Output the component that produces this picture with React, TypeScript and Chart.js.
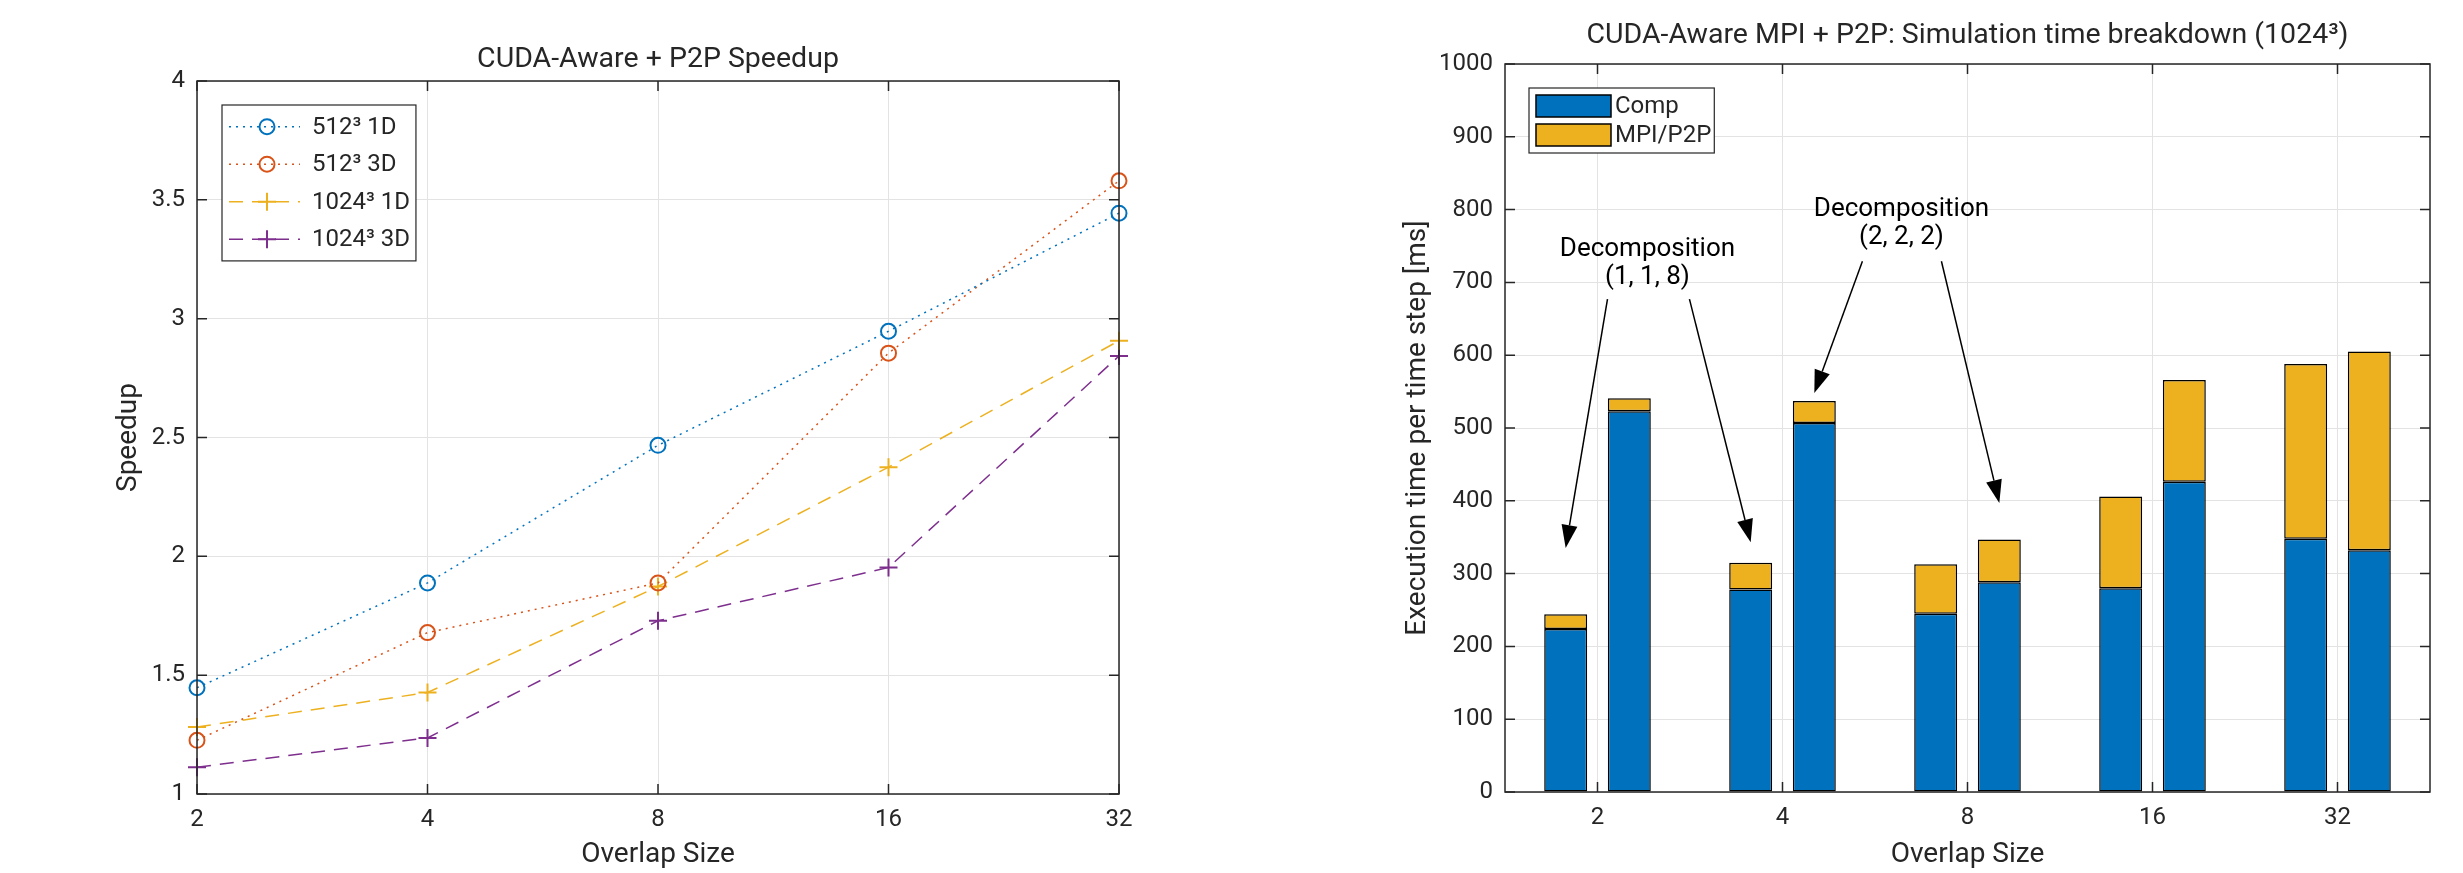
import React, { useEffect, useRef } from 'react';
import { Chart, registerables } from 'chart.js';

Chart.register(...registerables);

const FONT_FAMILY = 'Roboto, "Noto Sans", "DejaVu Sans", sans-serif';
const TEXT_COLOR = '#262626';
const AXIS_COLOR = '#262626';
const GRID_COLOR = '#e3e3e3';

// ---------------- data ----------------
const overlapSizes = ['2', '4', '8', '16', '32'];

const speedup512_1D = [1.447, 1.888, 2.467, 2.947, 3.444];
const speedup512_3D = [1.226, 1.679, 1.888, 2.855, 3.58];
const speedup1024_1D = [1.282, 1.427, 1.873, 2.375, 2.907];
const speedup1024_3D = [1.113, 1.236, 1.729, 1.953, 2.843];
const speedupLabels = ['512³ 1D', '512³ 3D', '1024³ 1D', '1024³ 3D'];
const speedupTitle = 'CUDA-Aware + P2P Speedup';

const speedupTicks = { min: 1, max: 4, step: 0.5 };

const compFirst = [224, 278, 245, 280, 348];
const mpiFirst = [20, 37, 68, 126, 240];
const compSecond = [523, 507, 288, 426, 332];
const mpiSecond = [18, 30, 59, 140, 273];
const breakdownLabels = ['Comp', 'MPI/P2P'];
const breakdownTitle = 'CUDA-Aware MPI + P2P: Simulation time breakdown (1024³)';
const timeTicks = { min: 0, max: 1000, step: 100 };

const annotationTexts = [
  ['Decomposition', '(1, 1, 8)'],
  ['Decomposition', '(2, 2, 2)'],
];

// annotation placement (category index / value space)
const annotationLayout = [
  {
    textX: 0.27,
    textY: [745, 707],
    arrows: [
      { fromX: 0.054, fromY: 677, stack: 0, index: 0, tipY: 335 },
      { fromX: 0.497, fromY: 677, stack: 0, index: 1, tipY: 343 },
    ],
  },
  {
    textX: 1.643,
    textY: [800, 762],
    arrows: [
      { fromX: 1.432, fromY: 729, stack: 1, index: 1, tipY: 548 },
      { fromX: 1.859, fromY: 729, stack: 1, index: 2, tipY: 397 },
    ],
  },
];

// ---------------- plugins ----------------
const matlabAxesPlugin = {
  id: 'matlabAxes',
  afterDatasetsDraw(chart: any) {
    const { ctx, chartArea } = chart;
    const { left, right, top, bottom } = chartArea;
    const xs = chart.scales.x;
    const ys = chart.scales.y;
    const L = 10;
    ctx.save();
    ctx.strokeStyle = AXIS_COLOR;
    ctx.lineWidth = 1.5;
    ctx.beginPath();
    xs.ticks.forEach((_: any, i: number) => {
      const px = xs.getPixelForTick(i);
      ctx.moveTo(px, bottom);
      ctx.lineTo(px, bottom - L);
      ctx.moveTo(px, top);
      ctx.lineTo(px, top + L);
    });
    ys.ticks.forEach((_: any, i: number) => {
      const py = ys.getPixelForTick(i);
      ctx.moveTo(left, py);
      ctx.lineTo(left + L, py);
      ctx.moveTo(right, py);
      ctx.lineTo(right - L, py);
    });
    ctx.stroke();
    ctx.strokeRect(left, top, right - left, bottom - top);
    ctx.restore();
  },
};

// title centred over the axes (MATLAB style)
const axesTitlePlugin = {
  id: 'axesTitle',
  afterDraw(chart: any, _args: any, opts: any) {
    const { ctx, chartArea } = chart;
    ctx.save();
    ctx.font = `${opts.size}px ${FONT_FAMILY}`;
    ctx.fillStyle = TEXT_COLOR;
    ctx.textAlign = 'center';
    ctx.textBaseline = 'middle';
    ctx.fillText(opts.text, (chartArea.left + chartArea.right) / 2, opts.y);
    ctx.restore();
  },
};

function drawMarker(ctx: CanvasRenderingContext2D, style: string, x: number, y: number, r: number) {
  ctx.beginPath();
  if (style === 'circle') {
    ctx.arc(x, y, r, 0, Math.PI * 2);
  } else {
    ctx.moveTo(x - r, y);
    ctx.lineTo(x + r, y);
    ctx.moveTo(x, y - r);
    ctx.lineTo(x, y + r);
  }
  ctx.stroke();
}

const lineLegendPlugin = {
  id: 'lineLegend',
  afterDraw(chart: any) {
    const { ctx, chartArea } = chart;
    const items = chart.data.datasets;
    const x0 = chartArea.left + 25;
    const y0 = chartArea.top + 24;
    const firstRow = 21.7;
    const rowH = 37.5;
    const textX = 90;
    ctx.save();
    ctx.font = `24px ${FONT_FAMILY}`;
    const maxW = Math.max(...items.map((d: any) => ctx.measureText(d.label).width));
    const w = textX + maxW + 6;
    const h = firstRow * 2 + rowH * (items.length - 1);
    ctx.fillStyle = '#ffffff';
    ctx.fillRect(x0, y0, w, h);
    ctx.strokeStyle = AXIS_COLOR;
    ctx.lineWidth = 1.2;
    ctx.strokeRect(x0, y0, w, h);
    items.forEach((d: any, i: number) => {
      const cy = y0 + firstRow + i * rowH;
      ctx.strokeStyle = d.borderColor;
      ctx.lineWidth = d.borderWidth;
      ctx.setLineDash(d.borderDash || []);
      ctx.beginPath();
      ctx.moveTo(x0 + 7, cy);
      ctx.lineTo(x0 + 78, cy);
      ctx.stroke();
      ctx.setLineDash([]);
      ctx.lineWidth = d.pointBorderWidth;
      drawMarker(ctx, d.pointStyle, x0 + 45, cy, d.pointRadius);
      ctx.fillStyle = TEXT_COLOR;
      ctx.textAlign = 'left';
      ctx.textBaseline = 'middle';
      ctx.fillText(d.label, x0 + textX, cy + 1);
    });
    ctx.restore();
  },
};

const barLegendPlugin = {
  id: 'barLegend',
  afterDraw(chart: any) {
    const { ctx, chartArea } = chart;
    const seen: Record<string, boolean> = {};
    const items = chart.data.datasets.filter((d: any) => {
      if (seen[d.label]) return false;
      seen[d.label] = true;
      return true;
    });
    const x0 = chartArea.left + 24;
    const y0 = chartArea.top + 24;
    const firstRow = 18;
    const rowH = 29;
    const textX = 86;
    ctx.save();
    ctx.font = `24px ${FONT_FAMILY}`;
    const maxW = Math.max(...items.map((d: any) => ctx.measureText(d.label).width));
    const w = textX + maxW + 3;
    const h = firstRow * 2 + rowH * (items.length - 1);
    ctx.fillStyle = '#ffffff';
    ctx.fillRect(x0, y0, w, h);
    ctx.strokeStyle = AXIS_COLOR;
    ctx.lineWidth = 1.2;
    ctx.strokeRect(x0, y0, w, h);
    items.forEach((d: any, i: number) => {
      const cy = y0 + firstRow + i * rowH;
      ctx.fillStyle = d.backgroundColor;
      ctx.fillRect(x0 + 7, cy - 11, 75, 22);
      ctx.strokeStyle = d.borderColor;
      ctx.lineWidth = 1.5;
      ctx.strokeRect(x0 + 7, cy - 11, 75, 22);
      ctx.fillStyle = TEXT_COLOR;
      ctx.textAlign = 'left';
      ctx.textBaseline = 'middle';
      ctx.fillText(d.label, x0 + textX, cy + 1);
    });
    ctx.restore();
  },
};

function drawArrow(ctx: CanvasRenderingContext2D, x1: number, y1: number, x2: number, y2: number) {
  const ang = Math.atan2(y2 - y1, x2 - x1);
  const len = 23;
  const half = 8;
  const bx = x2 - len * Math.cos(ang);
  const by = y2 - len * Math.sin(ang);
  ctx.beginPath();
  ctx.moveTo(x1, y1);
  ctx.lineTo(bx, by);
  ctx.stroke();
  ctx.beginPath();
  ctx.moveTo(x2, y2);
  ctx.lineTo(bx + half * Math.sin(ang), by - half * Math.cos(ang));
  ctx.lineTo(bx - half * Math.sin(ang), by + half * Math.cos(ang));
  ctx.closePath();
  ctx.fill();
}

const annotationPlugin = {
  id: 'decompAnnotations',
  afterDraw(chart: any) {
    const { ctx } = chart;
    const xs = chart.scales.x;
    const ys = chart.scales.y;
    // top dataset for each stack group
    const stackTop = [1, 3];
    ctx.save();
    ctx.font = `26px ${FONT_FAMILY}`;
    ctx.fillStyle = '#000';
    ctx.strokeStyle = '#000';
    ctx.lineWidth = 1.5;
    ctx.textAlign = 'center';
    ctx.textBaseline = 'middle';
    annotationLayout.forEach((a, k) => {
      const tx = xs.getPixelForValue(a.textX);
      annotationTexts[k].forEach((line, j) => {
        ctx.fillText(line, tx, ys.getPixelForValue(a.textY[j]));
      });
      a.arrows.forEach((ar) => {
        const el = chart.getDatasetMeta(stackTop[ar.stack]).data[ar.index];
        drawArrow(
          ctx,
          xs.getPixelForValue(ar.fromX),
          ys.getPixelForValue(ar.fromY),
          el.x,
          ys.getPixelForValue(ar.tipY)
        );
      });
    });
    ctx.restore();
  },
};

const tickFont = { family: FONT_FAMILY, size: 24 };
const labelFont = { family: FONT_FAMILY, size: 28 };
const plainTick = (v: any) => String(v);

// ---------------- components ----------------
function SpeedupChart() {
  const ref = useRef<HTMLCanvasElement | null>(null);
  useEffect(() => {
    if (!ref.current) return;
    const dotted = [2, 5];
    const dashed = [14, 9];
    const series = [
      { data: speedup512_1D, color: '#0072BD', dash: dotted, style: 'circle', r: 7.5 },
      { data: speedup512_3D, color: '#D95319', dash: dotted, style: 'circle', r: 7.5 },
      { data: speedup1024_1D, color: '#EDB120', dash: dashed, style: 'cross', r: 9 },
      { data: speedup1024_3D, color: '#7E2F8E', dash: dashed, style: 'cross', r: 9 },
    ];
    const chart = new Chart(ref.current, {
      type: 'line',
      data: {
        labels: overlapSizes,
        datasets: series.map((s, i) => ({
          label: speedupLabels[i],
          data: s.data,
          borderColor: s.color,
          backgroundColor: 'transparent',
          borderWidth: 1.5,
          borderDash: s.dash,
          pointStyle: s.style,
          pointRadius: s.r,
          pointBorderWidth: 2,
          pointBorderColor: s.color,
          pointBackgroundColor: 'transparent',
          tension: 0,
          clip: false,
        })) as any,
      },
      options: {
        animation: false,
        responsive: false,
        maintainAspectRatio: false,
        layout: { padding: { left: 0, right: 113, top: 81, bottom: 0 } },
        plugins: {
          legend: { display: false },
          tooltip: { enabled: false },
          title: { display: false },
          axesTitle: { text: speedupTitle, size: 28.5, y: 60 },
        },
        scales: {
          x: {
            type: 'category',
            offset: false,
            grid: { color: GRID_COLOR, drawTicks: false, offset: false, lineWidth: 1 },
            border: { display: false },
            ticks: { color: TEXT_COLOR, font: tickFont, padding: 12, autoSkip: false, maxRotation: 0 },
            title: {
              display: true,
              text: 'Overlap Size',
              color: TEXT_COLOR,
              font: labelFont,
              padding: { top: 0, bottom: 1.5 },
            },
            afterFit: (s: any) => {
              s.height = 79;
            },
          },
          y: {
            min: speedupTicks.min,
            max: speedupTicks.max,
            grid: { color: GRID_COLOR, drawTicks: false, lineWidth: 1 },
            border: { display: false },
            ticks: {
              stepSize: speedupTicks.step,
              color: TEXT_COLOR,
              font: tickFont,
              padding: 12,
              callback: plainTick,
            },
            title: {
              display: true,
              text: 'Speedup',
              color: TEXT_COLOR,
              font: labelFont,
              padding: { top: 112, bottom: 0 },
            },
            afterFit: (s: any) => {
              s.width = 197;
            },
          },
        },
      } as any,
      plugins: [matlabAxesPlugin, lineLegendPlugin, axesTitlePlugin],
    });
    return () => chart.destroy();
  }, []);
  return (
    <canvas
      ref={ref}
      width={1232}
      height={873}
      style={{ position: 'absolute', left: 0, top: 0, width: 1232, height: 873 }}
    />
  );
}

function BreakdownChart() {
  const ref = useRef<HTMLCanvasElement | null>(null);
  useEffect(() => {
    if (!ref.current) return;
    const blue = '#0072BD';
    const yellow = '#EDB120';
    const mk = (label: string, data: number[], color: string, stack: string) => ({
      label,
      data,
      stack,
      backgroundColor: color,
      borderColor: '#000000',
      borderWidth: 1.5,
      borderSkipped: false,
    });
    const chart = new Chart(ref.current, {
      type: 'bar',
      data: {
        labels: overlapSizes,
        datasets: [
          mk(breakdownLabels[0], compFirst, blue, 'first'),
          mk(breakdownLabels[1], mpiFirst, yellow, 'first'),
          mk(breakdownLabels[0], compSecond, blue, 'second'),
          mk(breakdownLabels[1], mpiSecond, yellow, 'second'),
        ] as any,
      },
      options: {
        animation: false,
        responsive: false,
        maintainAspectRatio: false,
        datasets: { bar: { categoryPercentage: 0.688, barPercentage: 0.675 } },
        layout: { padding: { left: 0, right: 33, top: 64, bottom: 0 } },
        plugins: {
          legend: { display: false },
          tooltip: { enabled: false },
          title: { display: false },
          axesTitle: { text: breakdownTitle, size: 28.5, y: 36 },
        },
        scales: {
          x: {
            type: 'category',
            stacked: true,
            offset: true,
            grid: { color: GRID_COLOR, drawTicks: false, offset: false, lineWidth: 1 },
            border: { display: false },
            ticks: { color: TEXT_COLOR, font: tickFont, padding: 12, autoSkip: false, maxRotation: 0 },
            title: {
              display: true,
              text: 'Overlap Size',
              color: TEXT_COLOR,
              font: labelFont,
              padding: { top: 0, bottom: 1.5 },
            },
            afterFit: (s: any) => {
              s.height = 81;
            },
          },
          y: {
            stacked: true,
            min: timeTicks.min,
            max: timeTicks.max,
            grid: { color: GRID_COLOR, drawTicks: false, lineWidth: 1 },
            border: { display: false },
            ticks: {
              stepSize: timeTicks.step,
              color: TEXT_COLOR,
              font: tickFont,
              padding: 12,
              callback: plainTick,
            },
            title: {
              display: true,
              text: 'Execution time per time step [ms]',
              color: TEXT_COLOR,
              font: labelFont,
              padding: { top: 169, bottom: 0 },
            },
            afterFit: (s: any) => {
              s.width = 273;
            },
          },
        },
      } as any,
      plugins: [matlabAxesPlugin, barLegendPlugin, annotationPlugin, axesTitlePlugin],
    });
    return () => chart.destroy();
  }, []);
  return (
    <canvas
      ref={ref}
      width={1231}
      height={873}
      style={{ position: 'absolute', left: 1232, top: 0, width: 1231, height: 873 }}
    />
  );
}

export default function App() {
  return (
    <div
      style={{
        position: 'absolute',
        left: 0,
        top: 0,
        width: 2463,
        height: 873,
        background: '#ffffff',
        overflow: 'hidden',
      }}
    >
      <SpeedupChart />
      <BreakdownChart />
    </div>
  );
}
